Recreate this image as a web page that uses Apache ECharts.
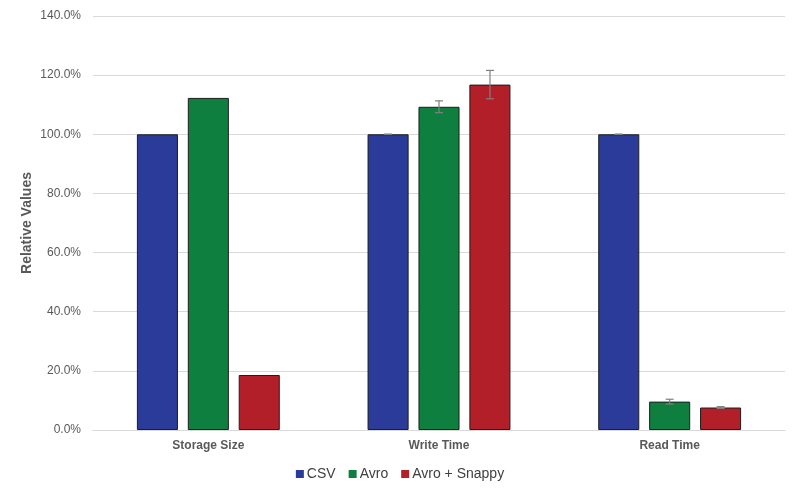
<!DOCTYPE html>
<html><head><meta charset="utf-8">
<script src="https://cdn.jsdelivr.net/npm/echarts@6/dist/echarts.min.js"></script>
<style>html,body{margin:0;padding:0;background:#fff}#c{width:800px;height:495px}</style>
</head><body><div id="c"></div>
<script>
const categories = ['Storage Size', 'Write Time', 'Read Time'];
const seriesNames = ['CSV', 'Avro', 'Avro + Snappy'];
const csvValues = [100.0, 100.0, 100.0];
const avroValues = [112.3, 109.3, 9.6];
const snappyValues = [18.6, 116.8, 7.6];
// null = no error bar drawn
const csvErr = [null, 0.0, 0.0];
const avroErr = [null, 2.0, 0.8];
const snappyErr = [null, 4.8, 0.3];
const colors = ['#2a3b99', '#0f7f3f', '#b21f29'];

const valuesList = [csvValues, avroValues, snappyValues];
const errList = [csvErr, avroErr, snappyErr];
const offsets = [-1, 0, 1];

const chart = echarts.init(document.getElementById('c'));
const font = 'Liberation Sans, Arial, sans-serif';

const barSeries = seriesNames.map((n, i) => ({
  name: n, type: 'bar', data: valuesList[i],
  barWidth: '17.8%', barGap: '24%',
  itemStyle: { color: colors[i], borderColor: '#1e1e1e', borderWidth: 1 },
  z: 2
}));

const errSeries = seriesNames.map((n, i) => ({
  type: 'custom', name: n + ' err', z: 5, silent: true,
  data: categories.map((c, j) => [j, valuesList[i][j] - (errList[i][j] || 0), valuesList[i][j] + (errList[i][j] || 0)])
    .filter((d, j) => errList[i][j] !== null),
  renderItem: function (params, api) {
    const band = api.size([1, 0])[0];
    const off = offsets[i] * band * 0.221;
    const lo = api.coord([api.value(0), api.value(1)]);
    const hi = api.coord([api.value(0), api.value(2)]);
    const x = lo[0] + off;
    const hw = 4;
    const st = { stroke: '#808080', lineWidth: 1.2 };
    return { type: 'group', children: [
      { type: 'line', shape: { x1: x, y1: lo[1], x2: x, y2: hi[1] }, style: st },
      { type: 'line', shape: { x1: x - hw, y1: hi[1], x2: x + hw, y2: hi[1] }, style: st },
      { type: 'line', shape: { x1: x - hw, y1: lo[1], x2: x + hw, y2: lo[1] }, style: st }
    ]};
  }
}));

chart.setOption({
  animation: false,
  textStyle: { fontFamily: font },
  grid: { left: 93, right: 15, top: 16, bottom: 65 },
  legend: {
    data: seriesNames, bottom: 9, left: 'center',
    icon: 'rect', itemWidth: 8, itemHeight: 8, itemGap: 13,
    itemStyle: { borderWidth: 0 },
    textStyle: { color: '#404040', fontSize: 14, fontFamily: font, padding: [0, 0, 0, -2] }
  },
  xAxis: {
    type: 'category', data: categories,
    axisLine: { lineStyle: { color: '#d9d9d9' } },
    axisTick: { show: false },
    axisLabel: { color: '#595959', fontWeight: 'bold', fontSize: 12, margin: 10, fontFamily: font }
  },
  yAxis: {
    type: 'value', min: 0, max: 140, interval: 20,
    name: 'Relative Values', nameLocation: 'middle', nameGap: 59, nameMoveOverlap: false,
    nameTextStyle: { color: '#595959', fontWeight: 'bold', fontSize: 14, fontFamily: font },
    axisLine: { show: false }, axisTick: { show: false },
    axisLabel: { color: '#595959', fontSize: 12, margin: 12, formatter: v => v.toFixed(1) + '%', fontFamily: font },
    splitLine: { lineStyle: { color: '#d9d9d9' } }
  },
  series: barSeries.concat(errSeries)
});
</script></body></html>
